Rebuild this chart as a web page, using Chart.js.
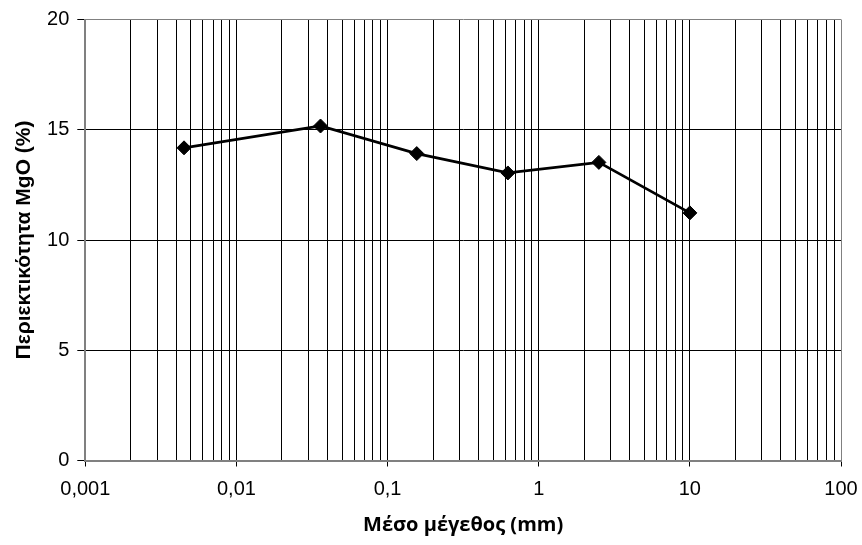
<!DOCTYPE html>
<html>
<head>
<meta charset="utf-8">
<script src="https://cdn.jsdelivr.net/npm/chart.js@4"></script>
<style>
  body { margin: 0; background: #fff; }
  #wrap { width: 862px; height: 545px; }
</style>
</head>
<body>
<div id="wrap"><canvas id="chartContainer" width="862" height="545"></canvas></div>
<script>
// mean size (mm) and MgO content (%)
const sizes = [0.0045, 0.036, 0.156, 0.625, 2.5, 10];
const mgo = [14.18, 15.17, 13.92, 13.04, 13.52, 11.23];

// labelled decades on the x axis
const xMajor = [0.001, 0.01, 0.1, 1, 10, 100];
const xTickLabels = ['0,001', '0,01', '0,1', '1', '10', '100'];
const yTicks = [0, 5, 10, 15, 20];

function isMajor(v) {
  return xMajor.some(m => Math.abs(v - m) / m < 1e-6);
}

let ctx = document.getElementById('chartContainer').getContext('2d');
let chart = new Chart(ctx, {
  type: 'line',
  data: {
    datasets: [{
      label: 'MgO',
      data: sizes.map((s, i) => ({ x: s, y: mgo[i] })),
      borderColor: '#000',
      backgroundColor: '#000',
      borderWidth: 2.75,
      tension: 0,
      fill: false,
      pointStyle: 'rectRot',
      pointRadius: 7,
      pointBorderWidth: 1,
      pointBackgroundColor: '#000',
      pointBorderColor: '#000'
    }]
  },
  options: {
    responsive: false,
    animation: false,
    layout: { padding: { top: 19.5, right: 21, bottom: 0, left: 0 } },
    plugins: {
      legend: { display: false },
      tooltip: { enabled: false }
    },
    scales: {
      x: {
        type: 'logarithmic',
        min: 0.001,
        max: 100,
        afterBuildTicks: scale => {
          // one grid line for every 1..9 of each decade
          let ticks = [];
          for (let d = 0; d < xMajor.length - 1; d++) {
            for (let k = 1; k <= 9; k++) {
              ticks.push({ value: parseFloat((k * xMajor[d]).toPrecision(6)) });
            }
          }
          ticks.push({ value: 100 });
          scale.ticks = ticks;
        },
        afterFit: scale => {
          scale.height = 84.5;
          scale.paddingLeft = 0;
          scale.paddingRight = 0;
        },
        grid: {
          color: c => (c.tick && c.tick.value === 100) ? '#808080' : '#000',
          lineWidth: 1,
          tickLength: 6,
          tickColor: c => (c.tick && isMajor(c.tick.value)) ? '#000' : 'rgba(0,0,0,0)'
        },
        border: { color: '#808080', width: 2 },
        ticks: {
          autoSkip: false,
          maxRotation: 0,
          padding: 11,
          color: '#000',
          font: { family: 'Liberation Sans', size: 20 },
          callback: v => {
            let i = xMajor.findIndex(m => Math.abs(v - m) / m < 1e-6);
            return i >= 0 ? xTickLabels[i] : '';
          }
        },
        title: {
          display: true,
          text: 'Μέσο μέγεθος (mm)',
          color: '#000',
          font: { family: 'Open Sans', size: 20, weight: 'bold' },
          padding: { top: 0, bottom: 8 }
        }
      },
      y: {
        min: 0,
        max: 20,
        afterBuildTicks: scale => { scale.ticks = yTicks.map(v => ({ value: v })); },
        afterFit: scale => {
          scale.width = 85.3;
          scale.paddingTop = 0;
          scale.paddingBottom = 0;
        },
        grid: {
          color: c => (c.tick && c.tick.value === 20) ? '#808080' : '#000',
          lineWidth: 1,
          tickLength: 8,
          tickColor: '#000'
        },
        border: { color: '#808080', width: 2 },
        ticks: {
          padding: 8,
          color: '#000',
          font: { family: 'Liberation Sans', size: 20 }
        },
        title: {
          display: true,
          text: 'Περιεκτικότητα MgO (%)',
          color: '#000',
          font: { family: 'Liberation Sans', size: 21, weight: 'bold' },
          padding: { top: 12, bottom: 0 }
        }
      }
    }
  }
});
</script>
</body>
</html>
